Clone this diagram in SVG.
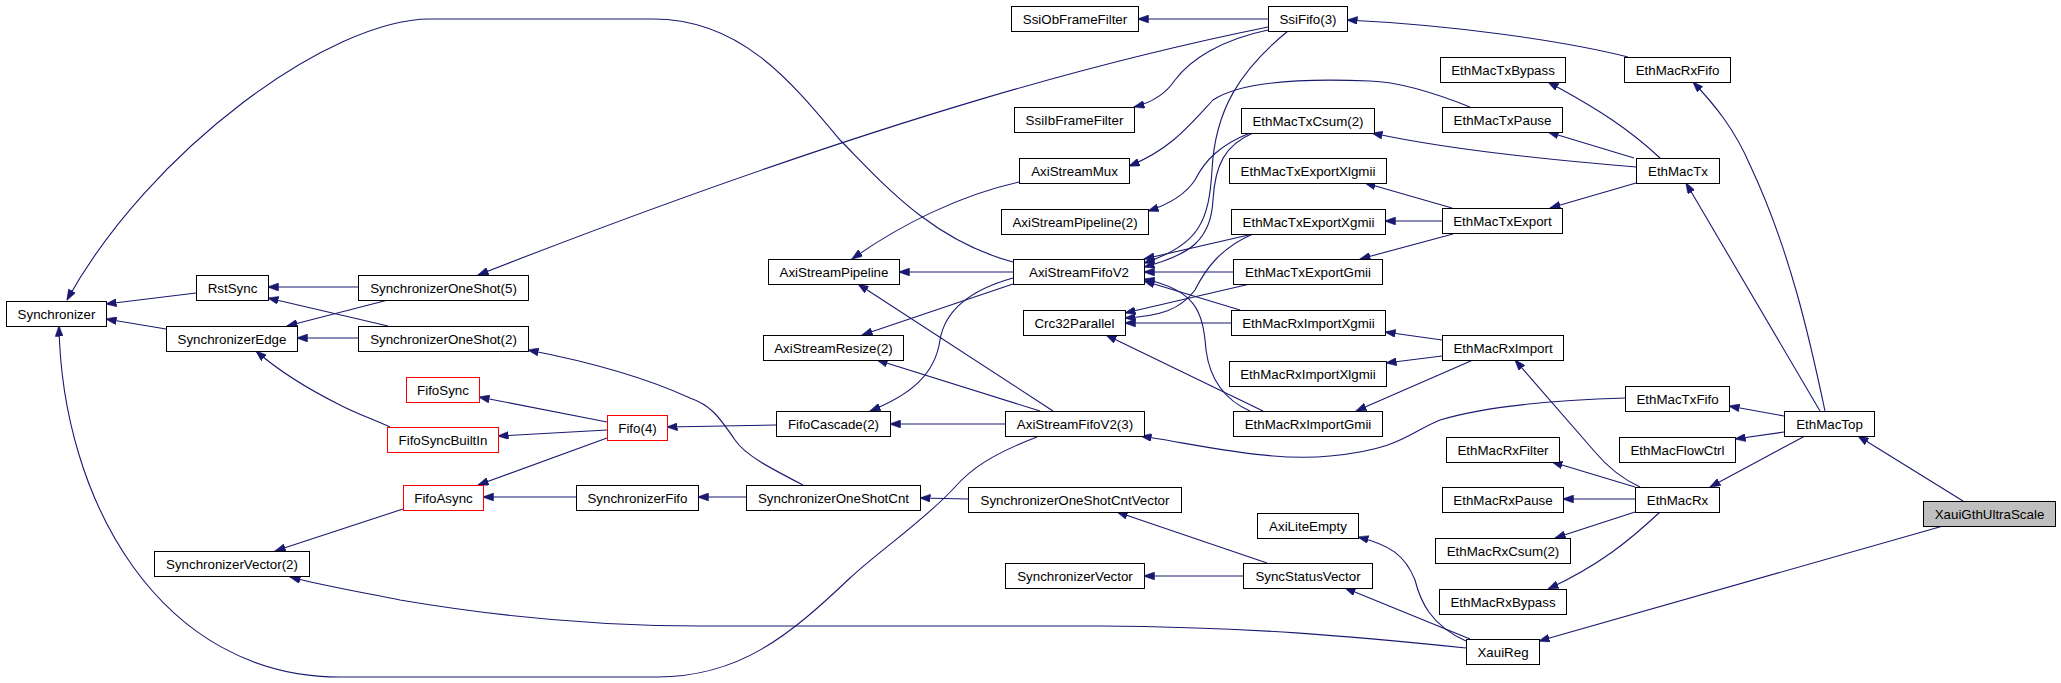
<svg xmlns="http://www.w3.org/2000/svg" width="2061" height="683" viewBox="0 0 2061 683">
<style>
.n rect{fill:#fff;stroke:#000;stroke-width:1}
.n.r rect{stroke:#ff0000}
.n.g rect{fill:#bfbfbf}
.n text{font-family:"Liberation Sans",Arial,sans-serif;font-size:13.33px;text-anchor:middle;fill:#000}
#edges path{fill:none;stroke:#191970;stroke-width:1.1;marker-end:url(#ah)}
</style>
<defs>
<marker id="ah" markerUnits="userSpaceOnUse" markerWidth="11" markerHeight="8" viewBox="0 0 11 8" refX="10.5" refY="4" orient="auto">
<path d="M0,0 L11,4 L0,8 z" fill="#191970" stroke="#191970" stroke-width="0.5"/>
</marker>
</defs>
<rect width="2061" height="683" fill="#fff"/>
<g id="edges">
<path d="M196,293 L106,304"/>
<path d="M166,329 L106,319"/>
<path d="M1013,262 C 930,240 880,180 840,140 C 790,80 740,19 653,19 L 430,19 C 330,19 150,150 67,300"/>
<path d="M1037,437 C 990,455 970,470 955,487 C 925,520 880,550 850,578 C 790,635 740,677 657,677 L 340,677 C 160,677 62,500 59,326"/>
<path d="M358,287 L268,287"/>
<path d="M388,326 L268,298"/>
<path d="M388,300 L287,326"/>
<path d="M358,338 L297,338"/>
<path d="M390,427 C 370,418 355,413 340,405 C 310,390 280,372 256,351"/>
<path d="M803,485 C 770,468 745,455 735,440 C 718,415 710,405 690,398 C 640,375 580,360 528,350"/>
<path d="M607,422 L479,397"/>
<path d="M607,430 L498,436"/>
<path d="M607,438 L478,485"/>
<path d="M776,425 L667,427"/>
<path d="M576,497 L483,497"/>
<path d="M403,509 L275,551"/>
<path d="M746,497 L698,497"/>
<path d="M968,499 L920,498"/>
<path d="M1466,648 C 1350,636 1250,627 1100,626 L 700,626 C 600,626 500,617 400,600 C 360,592 320,585 290,577"/>
<path d="M1013,272 L899,272"/>
<path d="M1019,182 C 960,195 900,225 852,259"/>
<path d="M1053,411 L858,284"/>
<path d="M1013,284 L862,335"/>
<path d="M1040,411 L877,360"/>
<path d="M1013,278 C 970,290 945,310 940,340 C 935,375 910,395 870,411"/>
<path d="M1005,424 L890,424"/>
<path d="M1625,398 C 1560,400 1490,405 1440,420 C 1410,432 1400,450 1330,456 C 1270,462 1200,445 1141,436"/>
<path d="M1268,27 C 1130,55 900,110 478,275"/>
<path d="M1268,19 L1138,19"/>
<path d="M1268,30 C 1220,40 1190,60 1175,80 C 1165,95 1150,103 1134,107"/>
<path d="M1288,31 C 1240,70 1215,110 1212,170 C 1209,220 1200,245 1144,263"/>
<path d="M1253,133 C 1225,145 1215,165 1213,200 C 1211,240 1190,255 1144,267"/>
<path d="M1250,133 C 1220,145 1205,160 1195,180 C 1185,195 1170,204 1148,211"/>
<path d="M1253,234 L1144,259"/>
<path d="M1233,272 L1144,272"/>
<path d="M1240,310 L1144,281"/>
<path d="M1250,411 C 1225,400 1210,380 1206,350 C 1203,310 1195,290 1144,279"/>
<path d="M1253,234 C 1220,248 1205,270 1195,290 C 1180,310 1160,316 1125,318"/>
<path d="M1250,284 L1125,313"/>
<path d="M1231,323 L1125,323"/>
<path d="M1263,411 L1106,335"/>
<path d="M1470,107 C 1440,95 1400,82 1370,81 C 1300,78 1240,82 1213,100 C 1190,125 1170,150 1129,166"/>
<path d="M1628,57 C 1560,40 1450,25 1347,20"/>
<path d="M1636,167 C 1550,160 1450,150 1372,133"/>
<path d="M1660,158 C 1630,130 1600,110 1548,82"/>
<path d="M1634,158 L1548,132"/>
<path d="M1636,183 L1550,208"/>
<path d="M1452,208 L1365,183"/>
<path d="M1442,221 L1385,221"/>
<path d="M1453,234 L1360,259"/>
<path d="M1442,340 L1385,332"/>
<path d="M1442,356 L1386,363"/>
<path d="M1473,360 L1356,411"/>
<path d="M1640,487 C 1625,480 1610,470 1595,452 L 1515,360"/>
<path d="M1635,487 L1552,462"/>
<path d="M1635,499 L1563,499"/>
<path d="M1635,512 L1555,538"/>
<path d="M1660,512 C 1630,540 1600,565 1548,589"/>
<path d="M1943,526 L1539,641"/>
<path d="M1963,501 L1858,436"/>
<path d="M1784,416 L1729,406"/>
<path d="M1784,432 L1735,439"/>
<path d="M1805,436 L1710,487"/>
<path d="M1820,411 L1686,183"/>
<path d="M1825,411 C 1810,340 1790,250 1750,165 C 1735,130 1715,105 1693,82"/>
<path d="M1470,639 L1345,588"/>
<path d="M1466,641 C 1430,625 1420,600 1415,580 C 1405,555 1390,545 1358,537"/>
<path d="M1267,563 L1117,512"/>
<path d="M1243,576 L1144,576"/>
</g>
<g id="Synchronizer" class="n"><rect x="6.5" y="301.5" width="100" height="25"/><text x="56.5" y="318.5">Synchronizer</text></g>
<g id="RstSync" class="n"><rect x="196.5" y="275.5" width="72" height="25"/><text x="232.5" y="292.5">RstSync</text></g>
<g id="SynchronizerEdge" class="n"><rect x="166.5" y="326.5" width="131" height="25"/><text x="232" y="343.5">SynchronizerEdge</text></g>
<g id="SynchronizerVector2" class="n"><rect x="154.5" y="551.5" width="155" height="25"/><text x="232" y="568.5">SynchronizerVector(2)</text></g>
<g id="SynchronizerOneShot5" class="n"><rect x="358.5" y="275.5" width="170" height="25"/><text x="443.5" y="292.5">SynchronizerOneShot(5)</text></g>
<g id="SynchronizerOneShot2" class="n"><rect x="358.5" y="326.5" width="170" height="25"/><text x="443.5" y="343.5">SynchronizerOneShot(2)</text></g>
<g id="FifoSync" class="n r"><rect x="406.5" y="377.5" width="73" height="25"/><text x="443" y="394.5">FifoSync</text></g>
<g id="FifoSyncBuiltIn" class="n r"><rect x="387.5" y="427.5" width="111" height="25"/><text x="443" y="444.5">FifoSyncBuiltIn</text></g>
<g id="FifoAsync" class="n r"><rect x="403.5" y="485.5" width="80" height="25"/><text x="443.5" y="502.5">FifoAsync</text></g>
<g id="Fifo4" class="n r"><rect x="607.5" y="415.5" width="60" height="25"/><text x="637.5" y="432.5">Fifo(4)</text></g>
<g id="SynchronizerFifo" class="n"><rect x="576.5" y="485.5" width="122" height="25"/><text x="637.5" y="502.5">SynchronizerFifo</text></g>
<g id="AxiStreamPipeline" class="n"><rect x="768.5" y="259.5" width="131" height="25"/><text x="834" y="276.5">AxiStreamPipeline</text></g>
<g id="AxiStreamResize2" class="n"><rect x="763.5" y="335.5" width="140" height="25"/><text x="833.5" y="352.5">AxiStreamResize(2)</text></g>
<g id="FifoCascade2" class="n"><rect x="776.5" y="411.5" width="114" height="25"/><text x="833.5" y="428.5">FifoCascade(2)</text></g>
<g id="SynchronizerOneShotCnt" class="n"><rect x="746.5" y="485.5" width="174" height="25"/><text x="833.5" y="502.5">SynchronizerOneShotCnt</text></g>
<g id="SsiObFrameFilter" class="n"><rect x="1011.5" y="6.5" width="127" height="25"/><text x="1075" y="23.5">SsiObFrameFilter</text></g>
<g id="SsiIbFrameFilter" class="n"><rect x="1014.5" y="107.5" width="120" height="25"/><text x="1074.5" y="124.5">SsiIbFrameFilter</text></g>
<g id="AxiStreamMux" class="n"><rect x="1019.5" y="158.5" width="110" height="25"/><text x="1074.5" y="175.5">AxiStreamMux</text></g>
<g id="AxiStreamPipeline2" class="n"><rect x="1001.5" y="209.5" width="147" height="25"/><text x="1075" y="226.5">AxiStreamPipeline(2)</text></g>
<g id="AxiStreamFifoV2" class="n"><rect x="1013.5" y="259.5" width="131" height="25"/><text x="1079" y="276.5">AxiStreamFifoV2</text></g>
<g id="Crc32Parallel" class="n"><rect x="1023.5" y="310.5" width="102" height="25"/><text x="1074.5" y="327.5">Crc32Parallel</text></g>
<g id="AxiStreamFifoV23" class="n"><rect x="1005.5" y="411.5" width="139" height="25"/><text x="1075" y="428.5">AxiStreamFifoV2(3)</text></g>
<g id="SynchronizerOneShotCntVector" class="n"><rect x="968.5" y="487.5" width="213" height="25"/><text x="1075" y="504.5">SynchronizerOneShotCntVector</text></g>
<g id="SynchronizerVector" class="n"><rect x="1005.5" y="563.5" width="139" height="25"/><text x="1075" y="580.5">SynchronizerVector</text></g>
<g id="SsiFifo3" class="n"><rect x="1268.5" y="6.5" width="79" height="25"/><text x="1308" y="23.5">SsiFifo(3)</text></g>
<g id="EthMacTxCsum2" class="n"><rect x="1241.5" y="108.5" width="133" height="25"/><text x="1308" y="125.5">EthMacTxCsum(2)</text></g>
<g id="EthMacTxExportXlgmii" class="n"><rect x="1229.5" y="158.5" width="157" height="25"/><text x="1308" y="175.5">EthMacTxExportXlgmii</text></g>
<g id="EthMacTxExportXgmii" class="n"><rect x="1231.5" y="209.5" width="154" height="25"/><text x="1308.5" y="226.5">EthMacTxExportXgmii</text></g>
<g id="EthMacTxExportGmii" class="n"><rect x="1233.5" y="259.5" width="149" height="25"/><text x="1308" y="276.5">EthMacTxExportGmii</text></g>
<g id="EthMacRxImportXgmii" class="n"><rect x="1231.5" y="310.5" width="154" height="25"/><text x="1308.5" y="327.5">EthMacRxImportXgmii</text></g>
<g id="EthMacRxImportXlgmii" class="n"><rect x="1229.5" y="361.5" width="157" height="25"/><text x="1308" y="378.5">EthMacRxImportXlgmii</text></g>
<g id="EthMacRxImportGmii" class="n"><rect x="1233.5" y="411.5" width="149" height="25"/><text x="1308" y="428.5">EthMacRxImportGmii</text></g>
<g id="AxiLiteEmpty" class="n"><rect x="1257.5" y="513.5" width="101" height="25"/><text x="1308" y="530.5">AxiLiteEmpty</text></g>
<g id="SyncStatusVector" class="n"><rect x="1243.5" y="563.5" width="129" height="25"/><text x="1308" y="580.5">SyncStatusVector</text></g>
<g id="EthMacTxBypass" class="n"><rect x="1440.5" y="57.5" width="125" height="25"/><text x="1503" y="74.5">EthMacTxBypass</text></g>
<g id="EthMacRxFifo" class="n"><rect x="1624.5" y="57.5" width="106" height="25"/><text x="1677.5" y="74.5">EthMacRxFifo</text></g>
<g id="EthMacTxPause" class="n"><rect x="1442.5" y="107.5" width="120" height="25"/><text x="1502.5" y="124.5">EthMacTxPause</text></g>
<g id="EthMacTx" class="n"><rect x="1636.5" y="158.5" width="83" height="25"/><text x="1678" y="175.5">EthMacTx</text></g>
<g id="EthMacTxExport" class="n"><rect x="1442.5" y="208.5" width="120" height="25"/><text x="1502.5" y="225.5">EthMacTxExport</text></g>
<g id="EthMacRxImport" class="n"><rect x="1442.5" y="335.5" width="121" height="25"/><text x="1503" y="352.5">EthMacRxImport</text></g>
<g id="EthMacTxFifo" class="n"><rect x="1625.5" y="386.5" width="104" height="25"/><text x="1677.5" y="403.5">EthMacTxFifo</text></g>
<g id="EthMacRxFilter" class="n"><rect x="1446.5" y="437.5" width="113" height="25"/><text x="1503" y="454.5">EthMacRxFilter</text></g>
<g id="EthMacFlowCtrl" class="n"><rect x="1619.5" y="437.5" width="116" height="25"/><text x="1677.5" y="454.5">EthMacFlowCtrl</text></g>
<g id="EthMacRxPause" class="n"><rect x="1442.5" y="487.5" width="121" height="25"/><text x="1503" y="504.5">EthMacRxPause</text></g>
<g id="EthMacRx" class="n"><rect x="1635.5" y="487.5" width="84" height="25"/><text x="1677.5" y="504.5">EthMacRx</text></g>
<g id="EthMacRxCsum2" class="n"><rect x="1435.5" y="538.5" width="135" height="25"/><text x="1503" y="555.5">EthMacRxCsum(2)</text></g>
<g id="EthMacRxBypass" class="n"><rect x="1439.5" y="589.5" width="127" height="25"/><text x="1503" y="606.5">EthMacRxBypass</text></g>
<g id="XauiReg" class="n"><rect x="1466.5" y="639.5" width="73" height="25"/><text x="1503" y="656.5">XauiReg</text></g>
<g id="EthMacTop" class="n"><rect x="1784.5" y="411.5" width="90" height="25"/><text x="1829.5" y="428.5">EthMacTop</text></g>
<g id="XauiGthUltraScale" class="n g"><rect x="1923.5" y="501.5" width="132" height="25"/><text x="1989.5" y="518.5">XauiGthUltraScale</text></g>
</svg>
